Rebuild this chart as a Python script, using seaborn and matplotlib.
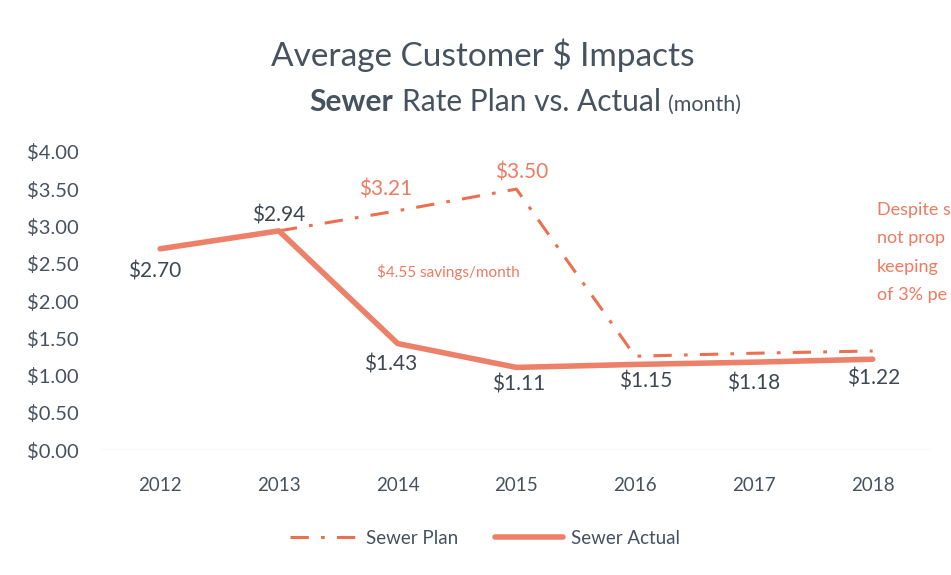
import matplotlib
matplotlib.use("Agg")
import pandas as pd
import matplotlib.pyplot as plt
import seaborn as sns

# data
years = [2012, 2013, 2014, 2015, 2016, 2017, 2018]
actual = [2.70, 2.94, 1.43, 1.11, 1.15, 1.18, 1.22]
plan_years = [2013, 2014, 2015, 2016, 2017, 2018]
plan = [2.94, 3.21, 3.50, 1.26, 1.30, 1.33]
plan_labeled = [2014, 2015]
y_ticks = [0.0, 0.5, 1.0, 1.5, 2.0, 2.5, 3.0, 3.5, 4.0]

# label offsets in pixels (dx, dy)
actual_offsets = [(-6, -23), (0, 15), (-7, -21), (2, -17), (11, -17), (0, -21), (1, -19)]
plan_offsets = {2014: (-12, 21), 2015: (5, 17)}

sns.set_theme(style="white")
plt.rcParams["font.family"] = ["Lato", "DejaVu Sans"]

text_col = "#46525e"
line_col = "#ec8068"
plan_col = "#ea7050"

df_actual = pd.DataFrame({"year": years, "value": actual})
df_plan = pd.DataFrame({"year": plan_years, "value": plan})

fig = plt.figure(figsize=(9.51, 5.75), dpi=100)
ax = fig.add_axes([0.106, 0.217, 0.874, 0.519])

sns.lineplot(data=df_plan, x="year", y="value", ax=ax, color=plan_col, lw=2.2,
             label="Sewer Plan", linestyle=(0, (6, 4, 1.2, 4)))
sns.lineplot(data=df_actual, x="year", y="value", ax=ax, color=line_col, lw=4,
             label="Sewer Actual", solid_capstyle="round")

ax.set_xlim(2011.5, 2018.5)
ax.set_ylim(0, 4)
ax.set_xticks(years)
ax.set_xticklabels([str(y) for y in years], fontsize=13.5, color=text_col)
ax.set_yticks(y_ticks)
ax.set_yticklabels(["${:.2f}".format(v) for v in y_ticks], fontsize=14.5, color=text_col)
ax.tick_params(axis="y", length=0, pad=16)
ax.tick_params(axis="x", length=0, pad=19)
ax.set_xlabel("")
ax.set_ylabel("")
for s in ax.spines.values():
    s.set_visible(False)
ax.axhline(0, color="#dcdcdc", lw=1)

for yr, v, (dx, dy) in zip(years, actual, actual_offsets):
    ax.annotate("${:.2f}".format(v), (yr, v), xytext=(dx, dy), textcoords="offset pixels",
                ha="center", va="center", fontsize=15, color="#3e4852")

for yr, v in zip(plan_years, plan):
    if yr in plan_labeled:
        dx, dy = plan_offsets[yr]
        ax.annotate("${:.2f}".format(v), (yr, v), xytext=(dx, dy), textcoords="offset pixels",
                    ha="center", va="center", fontsize=15, color="#ef7a60")

ax.text(2013.83, 2.39, "$4.55 savings/month", fontsize=11, color="#ef7a60", ha="left", va="center")

fig.text(877 / 951, 1 - 202 / 575, "Despite s\nnot prop\nkeeping\nof 3% pe", fontsize=13,
         color="#ef7a60", ha="left", va="top", linespacing=1.95)

# legend
ax.legend(loc="center", bbox_to_anchor=(0.51, 0.064), bbox_transform=fig.transFigure,
          ncol=2, frameon=False, fontsize=13.5, handlelength=3.6, handletextpad=0.45,
          columnspacing=2.0, labelcolor=text_col)

# title
fig.text(0.508, 1 - 66 / 575, "Average Customer $ Impacts", fontsize=24, color=text_col,
         ha="center", va="baseline")
fig.canvas.draw()
r = fig.canvas.get_renderer()
base = 1 - 111 / 575
parts = [("Sewer", "bold", 21.5, 9), ("Rate Plan vs. Actual", "normal", 21.5, 7), ("(month)", "normal", 15.5, 0)]
texts = []
widths = []
for txt, wt, fs, gap in parts:
    t = fig.text(0, base, txt, fontsize=fs, fontweight=wt, color=text_col,
                 ha="left", va="baseline")
    texts.append(t)
    widths.append(t.get_window_extent(renderer=r).width + gap)
x_px = 525 - sum(widths) / 2
for t, w in zip(texts, widths):
    t.set_x(x_px / 951)
    x_px += w

fig.savefig("out.png", dpi=100)
